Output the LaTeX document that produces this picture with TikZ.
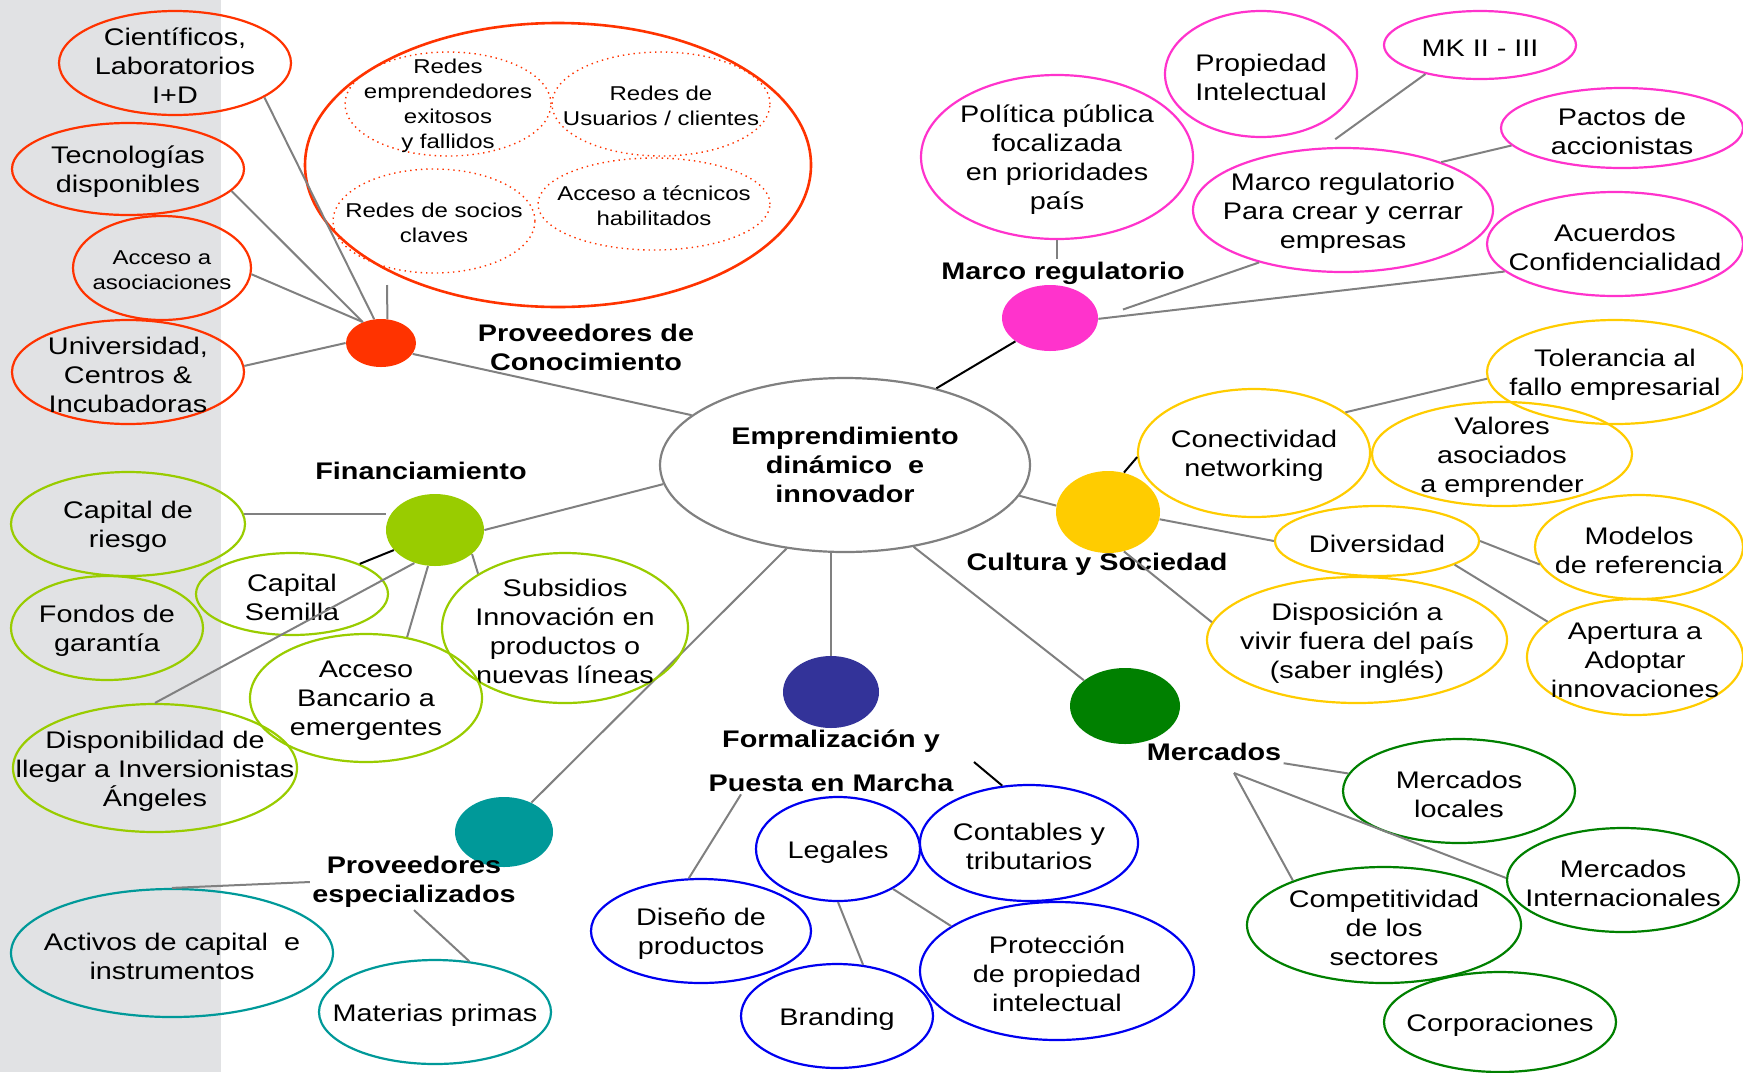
\documentclass[tikz,border=0pt]{standalone}
\usepackage{fontspec}
\setmainfont{Liberation Sans}[FakeStretch=1.2]
\usepackage{tikz}
\usetikzlibrary{shapes.geometric}
\definecolor{backGray}{RGB}{225,226,228}
\definecolor{lineGray}{RGB}{128,128,128}
\definecolor{knowRed}{RGB}{255,51,0}
\definecolor{regPink}{RGB}{255,51,204}
\definecolor{cultYellow}{RGB}{255,204,0}
\definecolor{mercGreen}{RGB}{0,128,0}
\definecolor{formBlue}{RGB}{0,0,240}
\definecolor{formNavy}{RGB}{51,51,153}
\definecolor{provTeal}{RGB}{0,153,153}
\definecolor{finLime}{RGB}{153,204,0}
\tikzstyle{mindMap} = [x = .5pt, y = -.5pt]
\tikzstyle{bubbleStyle} = [ellipse, inner sep = 0pt, line width = 1.1pt]
\tikzstyle{netStyle} = [ellipse, inner sep = 0pt, dotted, line width = .7pt, draw = knowRed]
\tikzstyle{hubStyle} = [ellipse, inner sep = 0pt]
\tikzstyle{bubbleText} = [align = center, yshift = -1.5pt, font = \fontsize{12}{14.5}\selectfont]
\tikzstyle{smallText} = [align = center, yshift = -1pt, font = \fontsize{10}{12.5}\selectfont]
\tikzstyle{hubLabel} = [align = center, inner sep = 1pt, font = \fontsize{12}{14.5}\selectfont\bfseries]
\tikzstyle{branch} = [color = lineGray, line width = 1pt]
\tikzstyle{blackBranch} = [color = black, line width = 1pt]
% ellipse of size 2rx x 2ry (in px) and its text
\newcommand{\ideaBubble}[7][bubbleText]{\node [bubbleStyle, draw = #2, minimum width = #5pt, minimum height = #6pt] (#3) at (#4) {}; \node [#1] at (#3) {#7};}
\newcommand{\netBubble}[5]{\node [netStyle, minimum width = #3pt, minimum height = #4pt] (#1) at (#2) {}; \node [smallText] at (#1) {#5};}
\newcommand{\hubBlob}[5]{\node [hubStyle, fill = #1, minimum width = #4pt, minimum height = #5pt] (#2) at (#3) {};}

\begin{document}
\begin{tikzpicture}[mindMap]
  \fill [backGray] (0,0) rectangle (221,1072);
  \useasboundingbox (0,0) rectangle (1743,1072);

  \ideaBubble[hubLabel]{lineGray}{core}{845,465}{185}{87}{Emprendimiento\\dinámico \ e\\innovador}

  % Proveedores de conocimiento
  \hubBlob{knowRed}{hubKnow}{381,343}{35}{24}
  \node [hubLabel] (knowLabel) at (586,347) {Proveedores de\\Conocimiento};
  \ideaBubble{knowRed}{cientificos}{175,63}{116}{52}{Científicos,\\Laboratorios\\I+D}
  \ideaBubble{knowRed}{tecnologias}{128,169}{116}{46}{Tecnologías\\disponibles}
  \ideaBubble[smallText]{knowRed}{asociaciones}{162,268}{89}{52}{Acceso a\\asociaciones}
  \ideaBubble{knowRed}{universidad}{128,372}{116}{52}{Universidad,\\Centros \&\\Incubadoras}
  \node [bubbleStyle, draw = knowRed, line width = 1.3pt, minimum width = 253pt, minimum height = 142pt] (knowCloud) at (558,165) {};
  \netBubble{redesExito}{448,104}{103}{52}{Redes\\emprendedores\\exitosos\\y fallidos}
  \netBubble{redesUsuarios}{661,104}{109}{52}{Redes de\\Usuarios / clientes}
  \netBubble{redesSocios}{434,221}{101}{52}{Redes de socios\\claves}
  \netBubble{accesoTecnicos}{654,204}{116}{46}{Acceso a técnicos\\habilitados}
  \coordinate (cloudFoot) at (387,285);
  \draw [branch] (cientificos.339) -- (hubKnow.106);
  \draw [branch] (tecnologias.348) -- (hubKnow.131);
  \draw [branch] (asociaciones.356) -- (hubKnow.131);
  \draw [branch] (universidad.3) -- (hubKnow.180);
  \draw [branch] (hubKnow.75) -- (cloudFoot);
  \draw [branch] (hubKnow.341) -- (core.162);

  % Marco regulatorio
  \hubBlob{regPink}{hubReg}{1050,318}{48}{33}
  \node [hubLabel] (regLabel) at (1063,273) {Marco regulatorio};
  \ideaBubble{regPink}{politica}{1057,157}{136}{82}{Política pública\\focalizada\\en prioridades\\país}
  \ideaBubble{regPink}{propiedad}{1261,74}{96}{63}{Propiedad\\Intelectual}
  \ideaBubble{regPink}{mk}{1480,45}{96}{34}{MK II - III}
  \ideaBubble{regPink}{pactos}{1622,128}{121}{40}{Pactos de\\accionistas}
  \ideaBubble{regPink}{regCrear}{1343,210}{150}{62}{Marco regulatorio\\Para crear y cerrar\\empresas}
  \ideaBubble{regPink}{acuerdos}{1615,244}{128}{52}{Acuerdos\\Confidencialidad}
  \draw [blackBranch] (hubReg.214) -- (core.40);
  \draw [branch] (politica.south) -- (politica.south |- regLabel.north);
  \draw [branch, shorten >= 13pt] (regCrear.212) -- (hubReg.east);
  \draw [branch, shorten >= 7pt] (mk.208) -- (regCrear.107);
  \draw [branch] (pactos.189) -- (regCrear.26);
  \draw [branch] (acuerdos.194) -- (hubReg.359);

  % Cultura y sociedad
  \hubBlob{cultYellow}{hubCult}{1108,512}{52}{41}
  \node [hubLabel] (cultLabel) at (1097,564) {Cultura y Sociedad};
  \ideaBubble{cultYellow}{conectividad}{1254,453}{116}{64}{Conectividad\\networking}
  \ideaBubble{cultYellow}{tolerancia}{1615,372}{128}{52}{Tolerancia al\\fallo empresarial}
  \ideaBubble{cultYellow}{valores}{1502,454}{130}{52}{Valores\\asociados\\a emprender}
  \ideaBubble{cultYellow}{diversidad}{1377,541}{102}{35}{Diversidad}
  \ideaBubble{cultYellow}{modelos}{1639,547}{104}{52}{Modelos\\de referencia}
  \ideaBubble{cultYellow}{apertura}{1635,657}{108}{58}{Apertura a\\Adoptar\\innovaciones}
  \ideaBubble{cultYellow}{disposicion}{1357,640}{150}{63}{Disposición a\\vivir fuera del país\\(saber inglés)}
  \draw [branch] (core.350) -- (hubCult.173);
  \draw [blackBranch] (hubCult.68) -- (conectividad.182);
  \draw [branch] (tolerancia.183) -- (conectividad.24);
  \draw [branch] (hubCult.352) -- (diversidad.west);
  \draw [branch] (diversidad.east) -- (modelos.190);
  \draw [branch] (diversidad.343) -- (apertura.158);
  \draw [branch] (hubCult.292) -- (disposicion.173);

  % Mercados
  \hubBlob{mercGreen}{hubMerc}{1125,706}{55}{38}
  \node [hubLabel] (mercLabel) at (1214,752) {Mercados};
  \ideaBubble{mercGreen}{locales}{1459,791}{116}{52}{Mercados\\locales}
  \ideaBubble{mercGreen}{internacionales}{1623,880}{116}{52}{Mercados\\Internacionales}
  \ideaBubble{mercGreen}{competitividad}{1384,925}{137}{58}{Competitividad\\de los\\sectores}
  \ideaBubble{mercGreen}{corporaciones}{1500,1022}{116}{50}{Corporaciones}
  \coordinate (mercFork) at (1234,773);
  \draw [branch] (core.310) -- (hubMerc.148);
  \draw [branch] (mercLabel.south east) -- (locales.171);
  \draw [branch] (mercFork) -- (competitividad.154);
  \draw [branch] (mercFork) -- (internacionales.179);

  % Formalizacion y puesta en marcha
  \hubBlob{formNavy}{hubForm}{831,692}{48}{36}
  \node [hubLabel] (formLabel) at (831,761) {Formalización y\\[7.5pt]Puesta en Marcha};
  \ideaBubble{formBlue}{legales}{838,849}{82}{52}{Legales}
  \ideaBubble{formBlue}{contables}{1029,843}{109}{58}{Contables y\\tributarios}
  \ideaBubble{formBlue}{diseno}{701,931}{110}{52}{Diseño de\\productos}
  \ideaBubble{formBlue}{branding}{837,1016}{96}{52}{Branding}
  \ideaBubble{formBlue}{proteccion}{1057,971}{137}{69}{Protección\\de propiedad\\intelectual}
  \coordinate (formTick) at (974,762);
  \draw [branch] (hubForm.north) -- (hubForm.north |- core.south);
  \draw [blackBranch] (formTick) -- (contables.115);
  \draw [branch] ([xshift = -45pt]formLabel.south) -- (diseno.103);
  \draw [branch] (legales.south) -- (branding.63);
  \draw [branch] (legales.324) -- (proteccion.157);

  % Proveedores especializados
  \hubBlob{provTeal}{hubProv}{504,832}{49}{35}
  \node [hubLabel] (provLabel) at (414,882) {Proveedores\\especializados};
  \ideaBubble{provTeal}{activos}{172,953}{161}{64}{Activos de capital \ e\\instrumentos}
  \ideaBubble{provTeal}{materias}{435,1012}{116}{52}{Materias primas}
  \draw [branch] (core.235) -- (hubProv.47);
  \draw [branch] (provLabel.west) -- (activos.north);
  \draw [branch] (provLabel.south) -- (materias.56);

  % Financiamiento
  \hubBlob{finLime}{hubFin}{435,530}{49}{36}
  \node [hubLabel] (finLabel) at (421,471) {Financiamiento};
  \ideaBubble{finLime}{riesgo}{128,524}{117}{52}{Capital de\\riesgo}
  \ideaBubble{finLime}{garantia}{107,628}{96}{52}{Fondos de\\garantía}
  \ideaBubble{finLime}{semilla}{292,594}{96}{41}{Capital\\Semilla}
  \ideaBubble{finLime}{subsidios}{565,628}{123}{75}{Subsidios\\Innovación en\\productos o\\nuevas líneas}
  \ideaBubble{finLime}{bancario}{366,698}{116}{64}{Acceso\\Bancario a\\emergentes}
  \ideaBubble{finLime}{angeles}{155,768}{142}{64}{Disponibilidad de\\llegar a Inversionistas\\Ángeles}
  \draw [branch] (hubFin.east) -- (core.186);
  \draw [branch] (riesgo.5) -- (riesgo.5 -| hubFin.west);
  \draw [blackBranch] (hubFin.206) -- (semilla.24);
  \draw [branch] (hubFin.238) -- (angeles.north);
  \draw [branch] (hubFin.327) -- (subsidios.148);
  \draw [branch] (hubFin.259) -- (bancario.56);
\end{tikzpicture}
\end{document}
